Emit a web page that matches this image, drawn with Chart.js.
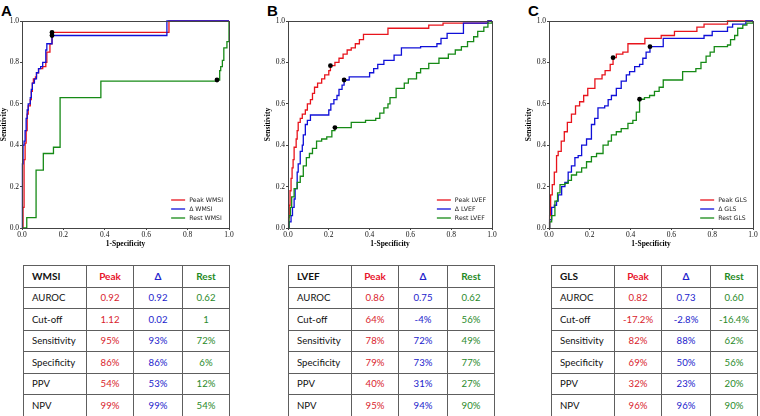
<!DOCTYPE html>
<html>
<head>
<meta charset="utf-8">
<title>ROC curves - WMSI, LVEF, GLS</title>
<script src="https://cdn.jsdelivr.net/npm/chart.js"></script>
<style>
  body { margin: 0; background: #fff; width: 760px; height: 416px; overflow: hidden; position: relative; }
  .letter { position: absolute; top: 3px; font: bold 15px/15px "Liberation Sans", Arial, sans-serif; color: #000; }
  .plot { position: absolute; top: 15px; }
  table.stats { position: absolute; top: 265px; border-collapse: collapse; table-layout: fixed;
    font: 9.6px Lato, "Open Sans", sans-serif; color: #111; }
  table.stats td { border: 1px solid #5e5e5e; height: 20.5px; padding: 0; text-align: center; white-space: nowrap; }
  table.stats td.lab { text-align: left; padding-left: 8px; }
  table.stats tr.head td { font-weight: bold; font-size: 10px; }
  .red { color: #d9232d; } .blue { color: #2222cc; } .green { color: #2a8a2a; }
  tr.head .red { color: #e8132b; } tr.head .green { color: #1f8a1f; }
</style>
</head>
<body>

<div class="letter" style="left:1px">A</div>
<div class="letter" style="left:267px">B</div>
<div class="letter" style="left:528px">C</div>

<canvas class="plot" id="rocA" width="235" height="240" style="left:0px"></canvas>
<canvas class="plot" id="rocB" width="234" height="240" style="left:264px"></canvas>
<canvas class="plot" id="rocC" width="234" height="240" style="left:525px"></canvas>

<table class="stats" id="tabA" style="left:23px"></table>
<table class="stats" id="tabB" style="left:288px"></table>
<table class="stats" id="tabC" style="left:551px"></table>

<script>
const axisTicks = [0, 0.2, 0.4, 0.6, 0.8, 1.0];

// WMSI
const peakWmsiFpr = [0, 0.005, 0.01, 0.015, 0.02, 0.025, 0.03, 0.04, 0.045, 0.05, 0.055, 0.065, 0.07, 0.08, 0.10, 0.115, 0.12, 0.135, 0.145, 0.71, 1.0];
const peakWmsiTpr = [0, 0.10, 0.33, 0.41, 0.47, 0.55, 0.59, 0.62, 0.66, 0.70, 0.72, 0.73, 0.75, 0.77, 0.78, 0.80, 0.85, 0.89, 0.945, 1.0, 1.0];
const deltaWmsiFpr = [0, 0.002, 0.005, 0.01, 0.015, 0.02, 0.025, 0.03, 0.04, 0.045, 0.05, 0.06, 0.07, 0.08, 0.09, 0.10, 0.115, 0.12, 0.145, 0.70, 1.0];
const deltaWmsiTpr = [0, 0.31, 0.40, 0.42, 0.47, 0.53, 0.57, 0.60, 0.63, 0.67, 0.70, 0.72, 0.75, 0.77, 0.78, 0.80, 0.86, 0.89, 0.93, 1.0, 1.0];
const restWmsiFpr = [0, 0.023, 0.068, 0.103, 0.152, 0.184, 0.381, 0.942, 0.955, 0.96, 0.968, 0.975, 0.99, 1.0];
const restWmsiTpr = [0, 0.05, 0.28, 0.36, 0.39, 0.63, 0.71, 0.715, 0.76, 0.78, 0.81, 0.87, 0.90, 1.0];
const wmsiCutFpr = [0.145, 0.145, 0.942];
const wmsiCutTpr = [0.945, 0.93, 0.715];

// LVEF
const peakLvefFpr = [0, 0.003, 0.006, 0.01, 0.015, 0.02, 0.025, 0.03, 0.04, 0.045, 0.05, 0.06, 0.07, 0.085, 0.095, 0.11, 0.12, 0.13, 0.145, 0.165, 0.18, 0.20, 0.208, 0.23, 0.25, 0.27, 0.29, 0.31, 0.33, 0.35, 0.37, 0.49, 0.69, 0.76, 0.98, 1.0];
const peakLvefTpr = [0, 0.05, 0.11, 0.18, 0.24, 0.29, 0.33, 0.39, 0.43, 0.47, 0.51, 0.53, 0.55, 0.57, 0.60, 0.62, 0.65, 0.68, 0.70, 0.72, 0.74, 0.76, 0.784, 0.80, 0.82, 0.84, 0.86, 0.87, 0.89, 0.91, 0.935, 0.965, 0.98, 0.99, 1.0, 1.0];
const deltaLvefFpr = [0, 0.005, 0.015, 0.022, 0.03, 0.035, 0.045, 0.05, 0.06, 0.07, 0.075, 0.085, 0.095, 0.11, 0.20, 0.21, 0.225, 0.24, 0.25, 0.265, 0.275, 0.30, 0.40, 0.42, 0.44, 0.47, 0.52, 0.556, 0.65, 0.73, 0.75, 0.78, 0.86, 0.98, 1.0];
const deltaLvefTpr = [0, 0.03, 0.06, 0.10, 0.14, 0.19, 0.27, 0.31, 0.37, 0.40, 0.45, 0.50, 0.52, 0.546, 0.57, 0.60, 0.62, 0.64, 0.67, 0.69, 0.715, 0.73, 0.75, 0.77, 0.79, 0.81, 0.835, 0.87, 0.876, 0.89, 0.916, 0.94, 0.99, 1.0, 1.0];
const restLvefFpr = [0, 0.005, 0.012, 0.018, 0.03, 0.045, 0.06, 0.075, 0.09, 0.105, 0.12, 0.14, 0.165, 0.19, 0.215, 0.23, 0.31, 0.38, 0.43, 0.45, 0.47, 0.49, 0.50, 0.53, 0.57, 0.59, 0.63, 0.65, 0.69, 0.74, 0.786, 0.82, 0.85, 0.88, 0.91, 0.93, 0.96, 0.98, 1.0];
const restLvefTpr = [0, 0.06, 0.10, 0.15, 0.19, 0.22, 0.25, 0.30, 0.34, 0.36, 0.385, 0.42, 0.43, 0.44, 0.47, 0.485, 0.51, 0.52, 0.53, 0.555, 0.58, 0.60, 0.63, 0.675, 0.70, 0.72, 0.75, 0.77, 0.795, 0.82, 0.84, 0.86, 0.876, 0.90, 0.924, 0.95, 0.97, 0.99, 1.0];
const lvefCutFpr = [0.208, 0.275, 0.23];
const lvefCutTpr = [0.784, 0.715, 0.485];

// GLS
const peakGlsFpr = [0, 0.003, 0.008, 0.016, 0.026, 0.037, 0.045, 0.06, 0.075, 0.09, 0.11, 0.13, 0.15, 0.17, 0.19, 0.225, 0.26, 0.275, 0.30, 0.314, 0.33, 0.362, 0.387, 0.47, 0.55, 0.615, 0.725, 0.76, 0.875, 1.0];
const peakGlsTpr = [0, 0.06, 0.16, 0.21, 0.27, 0.35, 0.37, 0.42, 0.465, 0.51, 0.55, 0.59, 0.61, 0.64, 0.675, 0.72, 0.74, 0.76, 0.79, 0.823, 0.84, 0.85, 0.89, 0.916, 0.93, 0.95, 0.97, 0.985, 1.0, 1.0];
const deltaGlsFpr = [0, 0.003, 0.013, 0.026, 0.037, 0.045, 0.062, 0.078, 0.094, 0.11, 0.127, 0.143, 0.16, 0.184, 0.208, 0.224, 0.24, 0.273, 0.29, 0.306, 0.33, 0.354, 0.379, 0.395, 0.42, 0.444, 0.46, 0.476, 0.495, 0.56, 0.76, 0.80, 0.875, 0.90, 0.965, 1.0];
const deltaGlsTpr = [0, 0.04, 0.10, 0.11, 0.13, 0.16, 0.20, 0.22, 0.27, 0.30, 0.34, 0.35, 0.40, 0.43, 0.50, 0.53, 0.58, 0.59, 0.62, 0.64, 0.675, 0.71, 0.74, 0.755, 0.78, 0.79, 0.82, 0.85, 0.876, 0.916, 0.93, 0.95, 0.97, 0.985, 1.0, 1.0];
const restGlsFpr = [0, 0.003, 0.013, 0.029, 0.042, 0.054, 0.078, 0.094, 0.11, 0.135, 0.16, 0.184, 0.208, 0.233, 0.265, 0.29, 0.306, 0.33, 0.354, 0.387, 0.411, 0.428, 0.444, 0.468, 0.493, 0.517, 0.54, 0.56, 0.655, 0.72, 0.745, 0.77, 0.79, 0.81, 0.875, 0.89, 0.91, 0.925, 0.95, 0.97, 1.0];
const restGlsTpr = [0, 0.03, 0.06, 0.13, 0.17, 0.21, 0.216, 0.23, 0.256, 0.27, 0.29, 0.32, 0.345, 0.36, 0.40, 0.42, 0.45, 0.465, 0.48, 0.505, 0.52, 0.56, 0.622, 0.63, 0.64, 0.66, 0.68, 0.715, 0.755, 0.77, 0.80, 0.83, 0.85, 0.876, 0.884, 0.91, 0.93, 0.965, 0.98, 0.99, 1.0];
const glsCutFpr = [0.314, 0.495, 0.444];
const glsCutTpr = [0.823, 0.876, 0.622];

// tables
const rowLabels = ['AUROC', 'Cut-off', 'Sensitivity', 'Specificity', 'PPV', 'NPV'];
const wmsiPeak = ['0.92', '1.12', '95%', '86%', '54%', '99%'];
const wmsiDelta = ['0.92', '0.02', '93%', '86%', '53%', '99%'];
const wmsiRest = ['0.62', '1', '72%', '6%', '12%', '54%'];
const lvefPeak = ['0.86', '64%', '78%', '79%', '40%', '95%'];
const lvefDelta = ['0.75', '-4%', '72%', '73%', '31%', '94%'];
const lvefRest = ['0.62', '56%', '49%', '77%', '27%', '90%'];
const glsPeak = ['0.82', '-17.2%', '82%', '69%', '32%', '96%'];
const glsDelta = ['0.73', '-2.8%', '88%', '50%', '23%', '96%'];
const glsRest = ['0.60', '-16.4%', '62%', '56%', '20%', '90%'];

const RED = '#e8141c', BLUE = '#1010d8', GREEN = '#168a16';

function pts(xs, ys) { return xs.map((x, i) => ({ x: x, y: ys[i] })); }

// matplotlib-like box + legend in the lower right corner
const boxLegend = {
  id: 'boxLegend',
  afterDatasetsDraw(chart) {
    const a = chart.chartArea, ctx = chart.ctx;
    ctx.save();
    ctx.strokeStyle = '#444';
    ctx.lineWidth = 1;
    ctx.strokeRect(Math.round(a.left) + 0.5, Math.round(a.top) + 0.5, Math.round(a.right - a.left), Math.round(a.bottom - a.top));

    const items = chart.data.datasets.filter(d => d.showLine !== false);
    ctx.font = '6.2px "DejaVu Sans"';
    const maxW = Math.max(...items.map(d => ctx.measureText(d.label).width));
    const textX = a.right - 6 - maxW;
    ctx.textBaseline = 'middle';
    ctx.fillStyle = '#222';
    items.forEach((d, i) => {
      const y = a.bottom - 28 + i * 9;
      ctx.strokeStyle = d.borderColor;
      ctx.lineWidth = 1.3;
      ctx.beginPath();
      ctx.moveTo(textX - 18, y);
      ctx.lineTo(textX - 4, y);
      ctx.stroke();
      ctx.fillText(d.label, textX, y);
    });
    ctx.restore();
  }
};

function makeRoc(id, curves, cutFpr, cutTpr, yWidth) {
  const datasets = [{
    label: 'cut-off',
    data: pts(cutFpr, cutTpr),
    showLine: false,
    pointRadius: 2.4,
    pointBackgroundColor: '#000',
    pointBorderWidth: 0,
    order: 0
  }];
  curves.forEach((c, i) => {
    datasets.push({
      label: c.label,
      data: pts(c.fpr, c.tpr),
      borderColor: c.color,
      borderWidth: 1.3,
      pointRadius: 0,
      stepped: 'before',
      fill: false,
      clip: 3,
      order: 3 - i
    });
  });
  const tickFont = { family: '"Liberation Serif", "Times New Roman", serif', size: 7.5 };
  const titleFont = { family: '"Liberation Serif", "Times New Roman", serif', size: 7.5, weight: 'bold' };
  new Chart(document.getElementById(id), {
    type: 'line',
    data: { datasets: datasets },
    plugins: [boxLegend],
    options: {
      responsive: false,
      animation: false,
      events: [],
      layout: { padding: { top: 6, right: 6, left: 0, bottom: 0 } },
      plugins: { legend: { display: false }, tooltip: { enabled: false } },
      scales: {
        x: {
          type: 'linear', min: 0, max: 1,
          afterBuildTicks: s => { s.ticks = axisTicks.map(v => ({ value: v })); },
          afterFit: s => { s.height = 27; },
          ticks: { callback: v => v.toFixed(1), font: tickFont, color: '#111', padding: 1, maxRotation: 0, autoSkip: false },
          grid: { drawOnChartArea: false, tickLength: 2, color: '#444' },
          border: { display: false },
          title: { display: true, text: '1-Specificity', font: titleFont, color: '#000', padding: { top: 0, bottom: 6 } }
        },
        y: {
          type: 'linear', min: 0, max: 1,
          afterBuildTicks: s => { s.ticks = axisTicks.map(v => ({ value: v })); },
          afterFit: s => { s.width = yWidth; },
          ticks: { callback: v => v.toFixed(1), font: tickFont, color: '#111', padding: 1, autoSkip: false },
          grid: { drawOnChartArea: false, tickLength: 2, color: '#444' },
          border: { display: false },
          title: { display: true, text: 'Sensitivity', font: titleFont, color: '#000', padding: { top: 0, bottom: 0 } }
        }
      }
    }
  });
}

makeRoc('rocA', [
  { label: 'Peak WMSI', fpr: peakWmsiFpr, tpr: peakWmsiTpr, color: RED },
  { label: 'Δ WMSI', fpr: deltaWmsiFpr, tpr: deltaWmsiTpr, color: BLUE },
  { label: 'Rest WMSI', fpr: restWmsiFpr, tpr: restWmsiTpr, color: GREEN }
], wmsiCutFpr, wmsiCutTpr, 22);

makeRoc('rocB', [
  { label: 'Peak LVEF', fpr: peakLvefFpr, tpr: peakLvefTpr, color: RED },
  { label: 'Δ LVEF', fpr: deltaLvefFpr, tpr: deltaLvefTpr, color: BLUE },
  { label: 'Rest LVEF', fpr: restLvefFpr, tpr: restLvefTpr, color: GREEN }
], lvefCutFpr, lvefCutTpr, 24);

makeRoc('rocC', [
  { label: 'Peak GLS', fpr: peakGlsFpr, tpr: peakGlsTpr, color: RED },
  { label: 'Δ GLS', fpr: deltaGlsFpr, tpr: deltaGlsTpr, color: BLUE },
  { label: 'Rest GLS', fpr: restGlsFpr, tpr: restGlsTpr, color: GREEN }
], glsCutFpr, glsCutTpr, 24);

function fillTable(id, name, peak, delta, rest) {
  const t = document.getElementById(id);
  const widths = [63, 47, 49, 47];
  let html = '<colgroup>' + widths.map(w => '<col style="width:' + w + 'px">').join('') + '</colgroup>';
  html += '<tr class="head"><td class="lab">' + name + '</td><td class="red">Peak</td><td class="blue">Δ</td><td class="green">Rest</td></tr>';
  rowLabels.forEach((lab, i) => {
    html += '<tr><td class="lab">' + lab + '</td><td class="red">' + peak[i] + '</td><td class="blue">' + delta[i] + '</td><td class="green">' + rest[i] + '</td></tr>';
  });
  t.innerHTML = html;
}

fillTable('tabA', 'WMSI', wmsiPeak, wmsiDelta, wmsiRest);
fillTable('tabB', 'LVEF', lvefPeak, lvefDelta, lvefRest);
fillTable('tabC', 'GLS', glsPeak, glsDelta, glsRest);
</script>
</body>
</html>
